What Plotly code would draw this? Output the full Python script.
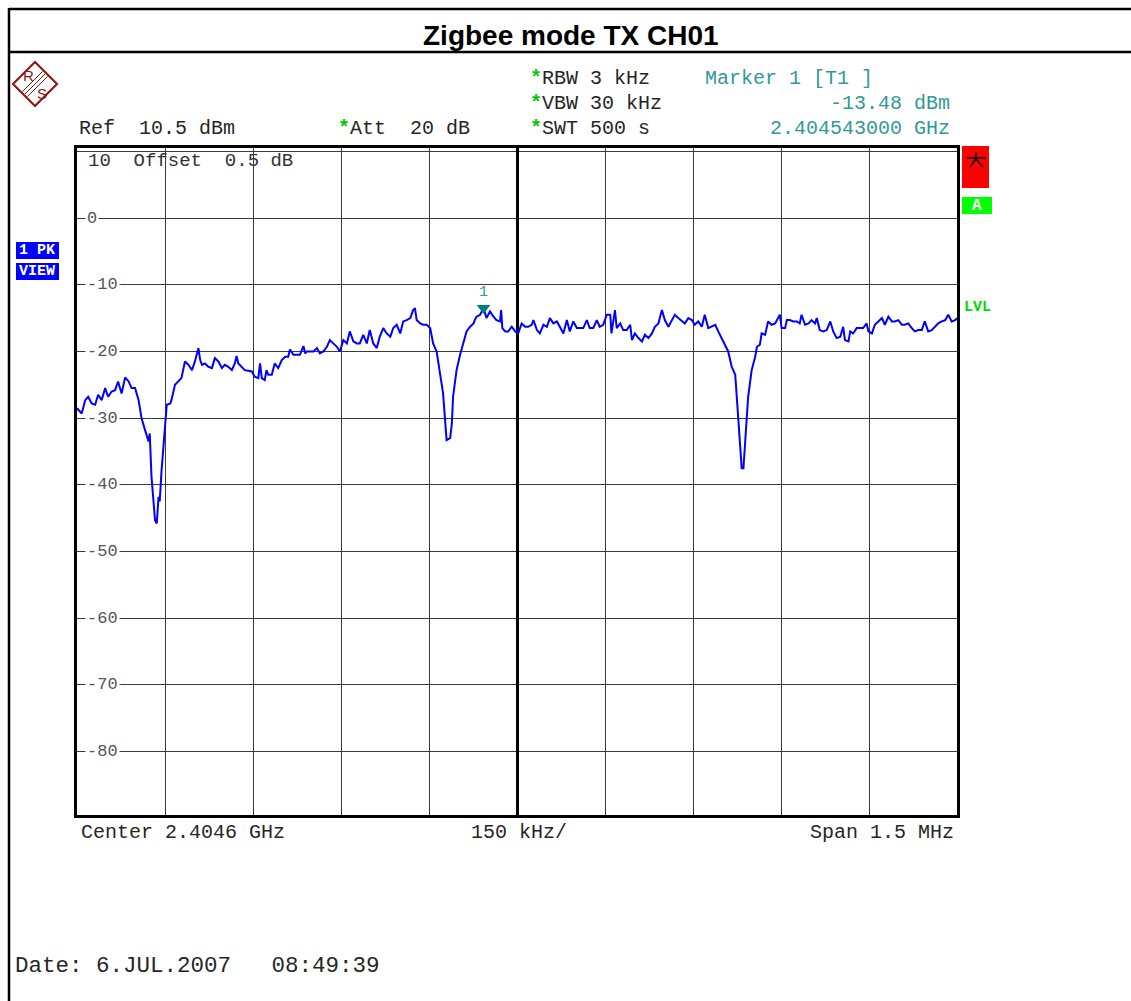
import plotly.graph_objects as go

center_ghz = 2.4046
span_mhz = 1.5
ref_level_dbm = 10.5
bottom_level_dbm = -89.5

# frequency offset from centre (kHz) and measured level (dBm)
freq_offset_khz = [
    -750, -742, -736, -731, -725, -719, -714, -708, -702, -697, -691, -685, -680, -674, -668, -662,
    -657, -651, -645, -640, -634, -628, -626, -623, -617, -614, -611, -609, -606, -603, -600, -597,
    -591, -589, -583, -577, -572, -566, -560, -554, -549, -543, -540, -537, -532, -526, -520, -515,
    -509, -503, -498, -492, -486, -481, -478, -475, -469, -464, -458, -452, -447, -441, -438, -435,
    -430, -427, -424, -418, -413, -407, -401, -395, -390, -387, -381, -376, -370, -364, -361,
    -358, -353, -347, -341, -336, -330, -324, -319, -313, -307, -302, -296, -290, -285, -279, -273,
    -268, -262, -256, -251, -245, -239, -234, -228, -222, -216, -211, -205, -199, -194, -188, -182,
    -177, -174, -171, -165, -160, -154, -148, -143, -137, -134, -131, -126, -123, -120, -114, -111,
    -109, -106, -103, -97, -92, -86, -80, -74, -72, -69, -63, -57, -52, -46, -40, -35,
    -29, -27, -25, -20, -15, -9, -3, 2,
    8, 14, 19, 25, 28, 34, 39, 45, 51, 56, 62, 68, 73, 79, 85, 90,
    96, 102, 107, 113, 119, 124, 130, 136, 141, 147, 153, 159, 161, 167, 170, 176,
    181, 187, 193, 196, 201, 207, 213, 218, 224, 230, 235, 241, 247, 252, 258, 264,
    269, 275, 281, 286, 292, 298, 303, 309, 315, 320, 326, 332, 338, 343, 349, 355,
    360, 366, 372, 375, 377, 380,
    383, 386, 389, 391, 394, 400, 406, 409, 414, 417, 423, 428, 434, 440, 445, 448,
    451, 457, 460, 465, 471, 477, 482, 485, 491, 497, 502, 508, 511, 516, 522, 528,
    534, 539, 545, 551, 556, 559, 565, 568, 573, 579, 585, 590, 596, 599, 605, 610,
    616, 622, 627, 633, 639, 644, 650, 656, 661, 667, 673, 678, 684, 690, 695, 701,
    707, 712, 718, 724, 730, 735, 741, 747, 750,
]
level_dbm = [
    -28.5, -29.3, -27.3, -26.8, -27.8, -28.0, -26.5, -27.3, -25.5, -26.8, -26.0, -25.8, -24.5, -26.3, -23.9, -24.5,
    -25.5, -25.5, -27.3, -30.0, -31.8, -33.5, -32.3, -38.8, -45.3, -45.8, -41.8, -42.5, -38.0, -34.3, -30.3, -28.0,
    -27.8, -27.3, -25.0, -24.5, -24.0, -21.5, -22.0, -22.8, -21.5, -19.5, -21.3, -22.0, -21.8, -22.3, -22.5, -21.0,
    -21.5, -22.5, -22.0, -22.3, -22.8, -21.8, -20.7, -21.8, -22.3, -22.8, -22.9, -23.0, -23.8, -24.0, -21.8, -24.0,
    -24.3, -22.8, -23.5, -23.5, -21.8, -22.5, -21.3, -20.8, -20.8, -19.7, -20.5, -20.5, -20.5, -19.2, -20.3,
    -20.0, -20.0, -20.0, -19.5, -20.3, -20.0, -19.3, -18.3, -18.8, -19.3, -20.0, -18.3, -18.8, -17.0, -18.5, -18.8,
    -18.8, -17.5, -18.8, -16.8, -18.8, -19.5, -17.8, -16.5, -17.3, -17.8, -16.5, -16.0, -17.3, -15.5, -15.3, -15.0,
    -13.8, -13.5, -15.3, -15.8, -16.0, -16.0, -16.5, -18.8, -20.0, -21.8, -23.3, -26.3, -29.8, -33.3, -33.0, -30.8,
    -26.8, -24.3, -22.8, -20.5, -18.8, -17.0, -16.3, -15.8, -15.3, -14.8, -14.5, -13.48, -15.0, -14.0, -14.8, -15.3,
    -15.5, -13.8, -16.5, -17.0, -17.0, -16.3, -17.0, -17.3,
    -15.8, -16.3, -16.3, -16.0, -15.3, -16.8, -17.3, -16.0, -16.3, -15.0, -15.8, -15.5, -16.3, -17.3, -15.3, -17.0,
    -15.5, -16.5, -16.5, -16.5, -15.3, -16.5, -16.5, -15.3, -16.3, -16.0, -14.5, -14.5, -17.3, -13.8, -16.5, -15.8,
    -16.8, -16.8, -16.0, -18.3, -17.3, -18.0, -18.5, -17.5, -18.0, -17.3, -16.3, -15.8, -13.8, -15.3, -16.3, -15.3,
    -14.5, -15.0, -15.5, -15.8, -15.0, -15.3, -16.0, -15.5, -16.3, -14.5, -16.5, -16.3, -16.0, -17.0, -18.0, -19.0,
    -20.0, -22.3, -23.5, -27.3, -30.3, -34.0,
    -37.5, -37.5, -33.5, -29.8, -26.8, -22.8, -20.8, -19.3, -19.0, -17.3, -17.5, -15.5, -16.0, -15.8, -15.0, -14.5,
    -16.5, -16.5, -15.3, -15.3, -15.5, -15.5, -15.8, -14.5, -16.0, -15.8, -15.3, -15.8, -15.0, -16.8, -17.0, -16.8,
    -15.5, -17.0, -18.0, -17.8, -16.3, -18.3, -18.5, -17.0, -17.3, -16.5, -16.5, -16.5, -15.8, -17.0, -17.3, -16.0,
    -15.5, -15.0, -16.0, -14.8, -15.5, -15.5, -15.3, -16.0, -16.0, -15.8, -16.5, -17.0, -16.8, -16.8, -15.5, -17.0,
    -16.8, -16.3, -15.8, -15.5, -15.3, -14.5, -15.5, -15.3, -15.0,
]

marker_offset_khz = [-57]
marker_level_dbm = [-13.48]
marker_label = ["1"]

x_div_khz = 150
y_div_db = 10
y_tick_values = [0, -10, -20, -30, -40, -50, -60, -70, -80]
y_tick_labels = ["0", "-10", "-20", "-30", "-40", "-50", "-60", "-70", "-80"]

title_text = "Zigbee mode TX CH01"
ref_text = "Ref  10.5 dBm"
att_text = "Att  20 dB"
rbw_text = "RBW 3 kHz"
vbw_text = "VBW 30 kHz"
swt_text = "SWT 500 s"
marker_name = "Marker 1 [T1 ]"
marker_level_text = "-13.48 dBm"
marker_freq_text = "2.404543000 GHz"
offset_text = "10  Offset  0.5 dB"
center_text = "Center 2.4046 GHz"
div_text = "150 kHz/"
span_text = "Span 1.5 MHz"
date_text = "Date: 6.JUL.2007   08:49:39"

# ---------------- layout helpers ----------------
MONO = "Liberation Mono"
SANS = "Liberation Sans"
W, H = 1131, 1001
L, R, T, B = 77, 174, 148, 186
PW, PH = W - L - R, H - T - B


def px(x):
    return (x - L) / PW


def py(y):
    return (H - B - y) / PH


TEAL = "#2f9a9a"
GREEN_AST = "#00c800"
TXT = "#262626"

fig = go.Figure()

fig.add_trace(go.Scatter(
    x=freq_offset_khz, y=level_dbm, mode="lines",
    line=dict(color="#0000ff", width=2), hoverinfo="skip", showlegend=False,
))

fig.add_trace(go.Scatter(
    x=marker_offset_khz, y=marker_level_dbm, mode="markers+text",
    marker=dict(symbol="triangle-down", size=12, color="#007f7f"),
    text=marker_label, textposition="top center",
    textfont=dict(family=MONO, size=15, color=TEAL),
    hoverinfo="skip", showlegend=False,
))

half_span_khz = span_mhz * 1000 / 2

annotations = []


def ann(text, x, y, size=20, color=TXT, xanchor="left", family=MONO, bg=None, yref="paper"):
    d = dict(text=text, x=px(x), y=py(y) if yref == "paper" else y, xref="paper", yref=yref,
             showarrow=False, xanchor=xanchor, yanchor="middle",
             font=dict(family=family, size=size, color=color))
    if bg:
        d["bgcolor"] = bg
        d["borderpad"] = 0
    annotations.append(d)


ast = f'<span style="color:{GREEN_AST}"><b>*</b></span>'

ann(f"<b>{title_text}</b>", 571, 35, size=28, color="#000", xanchor="center", family=SANS)
ann(ast + rbw_text, 528, 78)
ann(ast + vbw_text, 528, 103)
ann(ast + swt_text, 528, 128)
ann(ref_text, 77, 128)
ann(ast + att_text, 336, 128)
ann(marker_name, 703, 78, color=TEAL)
ann(marker_level_text, 952, 103, color=TEAL, xanchor="right")
ann(marker_freq_text, 952, 128, color=TEAL, xanchor="right")
ann(offset_text, 86, 161, size=19, color="#333")
ann(center_text, 79, 832, size=20)
ann(div_text, 469, 832, size=20)
ann(span_text, 956, 832, size=20, xanchor="right")
ann(date_text, 13, 966, size=22.5)
ann("<b>1 PK</b>", 37, 250, size=15, color="white", xanchor="center")
ann("<b>VIEW</b>", 37, 271, size=15, color="white", xanchor="center")
ann("<b>A</b>", 977, 206, size=16, color="white", xanchor="center")
ann("<b>LVL</b>", 962, 307, size=15, color="#00dd00")
ann("R", 28, 75, size=15, color="#8b1a1a", xanchor="center", family=SANS)
ann("S", 42, 93, size=15, color="#8b1a1a", xanchor="center", family=SANS)

for v, lab in zip(y_tick_values, y_tick_labels):
    annotations.append(dict(text=lab, x=px(85), y=v, xref="paper", yref="y", showarrow=False,
                            xanchor="left", yanchor="middle", bgcolor="white", borderpad=1,
                            font=dict(family=MONO, size=17, color="#555")))

shapes = []


def line(x0, y0, x1, y1, color="#000", width=2.5):
    shapes.append(dict(type="line", xref="paper", yref="paper", x0=px(x0), y0=py(y0),
                       x1=px(x1), y1=py(y1), line=dict(color=color, width=width)))


def rect(x0, y0, x1, y1, fill):
    shapes.append(dict(type="rect", xref="paper", yref="paper", x0=px(x0), y0=py(y0),
                       x1=px(x1), y1=py(y1), fillcolor=fill, line=dict(width=0), layer="below"))


# page frame
line(9, 9, 1131, 9)
line(9, 52, 1131, 52)
line(9, 8, 9, 1001)

# coloured boxes
rect(16, 242, 59, 259, "#0000ff")
rect(16, 263, 59, 280, "#0000ff")
rect(962, 146, 989, 188, "#ff0000")
rect(962, 197, 992, 214, "#00ff00")

# star in red box
line(967, 158, 986, 158, width=1.5)
line(976, 152, 976, 160, width=1.5)
line(976, 159, 970, 167, width=1.5)
line(976, 159, 983, 167, width=1.5)

# R&S logo diamond
cx, cy, r = 35, 84, 22
path = "M {} {} L {} {} L {} {} L {} {} Z".format(
    px(cx), py(cy - r), px(cx + r), py(cy), px(cx), py(cy + r), px(cx - r), py(cy))
shapes.append(dict(type="path", xref="paper", yref="paper", path=path,
                   line=dict(color="#8b1a1a", width=2.2)))
for d in (-2.5, 0, 2.5):
    line(cx - 10 + d, cy + 10 + d, cx + 10 + d, cy - 10 + d, color="#8b1a1a", width=1)

fig.update_layout(
    width=W, height=H,
    margin=dict(l=L, r=R, t=T, b=B, pad=0),
    paper_bgcolor="white", plot_bgcolor="white",
    showlegend=False,
    annotations=annotations,
    shapes=shapes,
    xaxis=dict(range=[-half_span_khz, half_span_khz], dtick=x_div_khz, tick0=-half_span_khz,
               showticklabels=False, ticks="", showgrid=True, gridcolor="#3a3a3a", gridwidth=1,
               zeroline=True, zerolinecolor="#000", zerolinewidth=2.5,
               showline=True, mirror=True, linecolor="#000", linewidth=3, fixedrange=True),
    yaxis=dict(range=[bottom_level_dbm, ref_level_dbm], dtick=y_div_db, tick0=0,
               showticklabels=False, ticks="", showgrid=True, gridcolor="#3a3a3a", gridwidth=1,
               zeroline=False, showline=True, mirror=True, linecolor="#000", linewidth=3,
               fixedrange=True),
)

fig.write_html(
    "out.html",
    config={"displayModeBar": False},
    post_script="document.body.style.margin='0';document.body.style.padding='0';"
                "document.documentElement.style.overflow='hidden';",
)
